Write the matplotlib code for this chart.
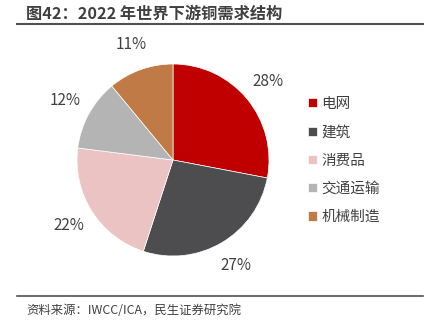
import matplotlib
matplotlib.use("Agg")
from matplotlib import pyplot
import numpy as np

pyplot.rcParams["font.family"] = ["Noto Sans CJK SC", "DejaVu Sans"]

categories = ["电网", "建筑", "消费品", "交通运输", "机械制造"]
shares = [28, 27, 22, 12, 11]
colors = ["#C00000", "#4D4D4F", "#EBC3C3", "#B4B4B4", "#BF7A45"]

title = "图42：2022 年世界下游铜需求结构"
source = "资料来源：IWCC/ICA，民生证券研究院"

W, H = 436, 330
figure = pyplot.figure(figsize=(W / 100, H / 100), dpi=100)

# pie axes: centre (173,160) px, radius 96 px
cx, cy, r = 173, 160, 96
ax = figure.add_axes([(cx - r) / W, (H - cy - r) / H, 2 * r / W, 2 * r / H])
wedges, texts = ax.pie(
    shares,
    colors=colors,
    startangle=90,
    counterclock=False,
    wedgeprops=dict(edgecolor="white", linewidth=0.5),
    labels=[f"{v}%" for v in shares],
    labeldistance=None,
)
# percentage labels outside
total = sum(shares)
start = 90.0
for v in shares:
    mid = np.deg2rad(start - v / total * 360 / 2)
    ax.text(1.28 * np.cos(mid), 1.28 * np.sin(mid), f"{v}%", ha="center",
            va="center", fontsize=11, color="#404040")
    start -= v / total * 360
ax.set_xlim(-1, 1)
ax.set_ylim(-1, 1)
ax.set_aspect("equal")

figure.legend(
    wedges,
    categories,
    loc="upper left",
    bbox_to_anchor=(308 / W, 1 - 97 / H),
    frameon=False,
    fontsize=10.5,
    handlelength=0.6,
    handleheight=0.6,
    handletextpad=0.3,
    labelspacing=0.98,
    labelcolor="#404040",
    borderaxespad=0,
    borderpad=0,
)

figure.text(26 / W, 1 - 14 / H, title, fontsize=11.7, fontweight="bold",
            color="#404040", ha="left", va="center")
figure.add_artist(pyplot.Line2D([17 / W, 423 / W], [1 - 24 / H, 1 - 24 / H],
                                color="#505050", linewidth=1.5))
figure.add_artist(pyplot.Line2D([17 / W, 423 / W], [1 - 296 / H, 1 - 296 / H],
                                color="#505050", linewidth=1.2))
figure.text(26 / W, 1 - 310 / H, source, fontsize=8.9, color="#404040",
            ha="left", va="center")

pyplot.savefig("out.png", dpi=100)
